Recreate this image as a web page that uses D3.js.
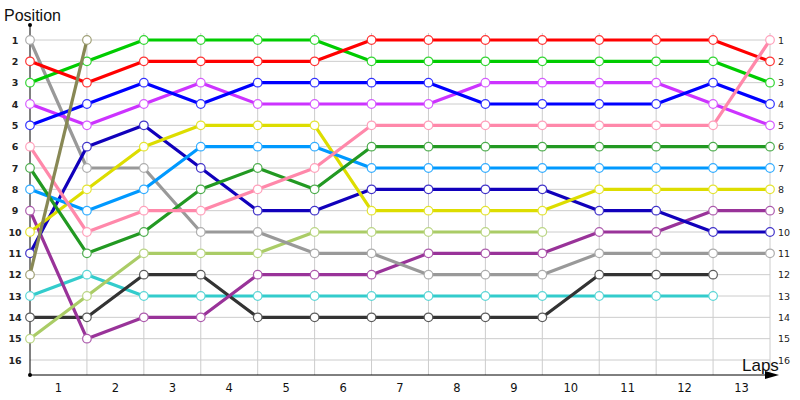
<!DOCTYPE html>
<html>
<head>
<meta charset="utf-8">
<script src="https://cdn.jsdelivr.net/npm/d3@7"></script>
<style>
  body { margin: 0; background: #fff; }
  svg { display: block; }
</style>
</head>
<body>
<svg id="chart" width="800" height="400"></svg>
<script>
// lap 0 = start grid, then one value per lap
const laps = d3.range(0, 14);
const lapLabels = ["1", "2", "3", "4", "5", "6", "7", "8", "9", "10", "11", "12", "13"];
const positions = d3.range(1, 17);

const red       = [2, 3, 2, 2, 2, 2, 1, 1, 1, 1, 1, 1, 1, 2];
const green     = [3, 2, 1, 1, 1, 1, 2, 2, 2, 2, 2, 2, 2, 3];
const blue      = [5, 4, 3, 4, 3, 3, 3, 3, 4, 4, 4, 4, 3, 4];
const violet    = [4, 5, 4, 3, 4, 4, 4, 4, 3, 3, 3, 3, 4, 5];
const pink      = [6, 10, 9, 9, 8, 7, 5, 5, 5, 5, 5, 5, 5, 1];
const darkGreen = [7, 11, 10, 8, 7, 8, 6, 6, 6, 6, 6, 6, 6, 6];
const lightBlue = [8, 9, 8, 6, 6, 6, 7, 7, 7, 7, 7, 7, 7, 7];
const yellow    = [10, 8, 6, 5, 5, 5, 9, 9, 9, 9, 8, 8, 8, 8];
const darkBlue  = [11, 6, 5, 7, 9, 9, 8, 8, 8, 8, 9, 9, 10, 10];
const gray      = [1, 7, 7, 10, 10, 11, 11, 12, 12, 12, 11, 11, 11, 11];
const lightGreen = [15, 13, 11, 11, 11, 10, 10, 10, 10, 10];
const plum      = [9, 15, 14, 14, 12, 12, 12, 11, 11, 11, 10, 10, 9, 9];
const charcoal  = [14, 14, 12, 12, 14, 14, 14, 14, 14, 14, 12, 12, 12];
const teal      = [13, 12, 13, 13, 13, 13, 13, 13, 13, 13, 13, 13, 13];
const olive     = [12, 1];

const series = [
    { color: "#33cccc", values: teal },
    { color: "#333333", values: charcoal },
    { color: "#993399", values: plum },
    { color: "#aacc66", values: lightGreen },
    { color: "#999999", values: gray },
    { color: "#1100bb", values: darkBlue },
    { color: "#dddd00", values: yellow },
    { color: "#0099ff", values: lightBlue },
    { color: "#229922", values: darkGreen },
    { color: "#cc33ff", values: violet },
    { color: "#0000ff", values: blue },
    { color: "#00cc00", values: green },
    { color: "#ff0000", values: red },
    { color: "#ff88aa", values: pink },
    { color: "#888855", values: olive }
];

const svg = d3.select("#chart");
const font = "'DejaVu Sans', Verdana, sans-serif";

const x = d3.scaleLinear().domain([0, 13]).range([30, 770]);
const y = d3.scaleLinear().domain([1, 16]).range([40, 360]);
const yTop = 25, yBottom = 375;

// grid
svg.append("g").selectAll("line")
    .data(positions)
    .join("line")
    .attr("x1", x(0)).attr("x2", x(13))
    .attr("y1", d => y(d)).attr("y2", d => y(d))
    .attr("stroke", "#cccccc");

svg.append("g").selectAll("line")
    .data(laps.slice(1))
    .join("line")
    .attr("x1", d => x(d)).attr("x2", d => x(d))
    .attr("y1", 33).attr("y2", yBottom)
    .attr("stroke", "#cccccc");

// axes
svg.append("line")
    .attr("x1", x(0)).attr("x2", x(0))
    .attr("y1", yTop).attr("y2", yBottom)
    .attr("stroke", "#000");
svg.append("line")
    .attr("x1", x(0)).attr("x2", 772)
    .attr("y1", yBottom).attr("y2", yBottom)
    .attr("stroke", "#000");
svg.append("path")
    .attr("d", `M765,371 L779,375 L765,379 Z`)
    .attr("fill", "#000");
svg.append("circle").attr("cx", x(0)).attr("cy", yTop).attr("r", 2).attr("fill", "#000");
svg.append("circle").attr("cx", x(0)).attr("cy", yBottom).attr("r", 2).attr("fill", "#000");

// position labels, both sides
svg.append("g").selectAll("text")
    .data(positions)
    .join("text")
    .attr("x", 15)
    .attr("y", d => y(d) + 3.5)
    .attr("text-anchor", "middle")
    .attr("font-family", font)
    .attr("font-size", 9.5)
    .attr("font-weight", "bold")
    .attr("fill", "#222")
    .text(d => d);

svg.append("g").selectAll("text")
    .data(positions)
    .join("text")
    .attr("x", 778)
    .attr("y", d => y(d) + 3.5)
    .attr("font-family", font)
    .attr("font-size", 9.5)
    .attr("fill", "#222")
    .text(d => d);

// lap labels between grid lines
svg.append("g").selectAll("text")
    .data(lapLabels)
    .join("text")
    .attr("x", (d, i) => (x(i) + x(i + 1)) / 2)
    .attr("y", 392)
    .attr("text-anchor", "middle")
    .attr("font-family", font)
    .attr("font-size", 11.5)
    .attr("fill", "#111")
    .text(d => d);

svg.append("text")
    .attr("x", 4).attr("y", 21)
    .attr("font-family", "'Liberation Sans', Arial, sans-serif")
    .attr("font-size", 16)
    .attr("fill", "#111")
    .text("Position");

svg.append("text")
    .attr("x", 742).attr("y", 371)
    .attr("font-family", "'Liberation Sans', Arial, sans-serif")
    .attr("font-size", 17)
    .attr("fill", "#111")
    .text("Laps");

// lines + markers
const line = d3.line()
    .x((d, i) => x(i))
    .y(d => y(d));

const groups = svg.append("g").selectAll("g")
    .data(series)
    .join("g");

groups.append("path")
    .attr("d", d => line(d.values))
    .attr("fill", "none")
    .attr("stroke", d => d.color)
    .attr("stroke-width", 3.2)
    .attr("stroke-linejoin", "round");

groups.each(function(s) {
    d3.select(this).selectAll("circle")
        .data(s.values)
        .join("circle")
        .attr("cx", (d, i) => x(i))
        .attr("cy", d => y(d))
        .attr("r", 4.3)
        .attr("fill", "#fff")
        .attr("stroke", d3.interpolateRgb(s.color, "#fff")(0.2))
        .attr("stroke-width", 1.2);
});
</script>
</body>
</html>
